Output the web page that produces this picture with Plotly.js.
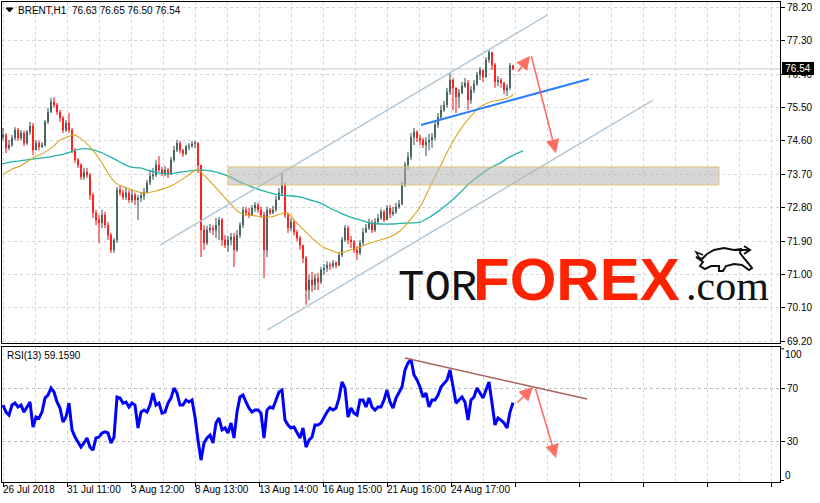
<!DOCTYPE html>
<html><head><meta charset="utf-8">
<script src="https://cdn.plot.ly/plotly-3.0.1.min.js"></script>
<style>html,body{margin:0;padding:0;background:#fff}#chart{width:820px;height:503px}</style>
</head><body><div id="chart"></div>
<script>
// ---------- DATA (BRENT H1) ----------
const firstOpen = 74.70;
const close = [
74.76,74.41,74.49,74.68,74.89,74.68,74.81,74.54,74.84,75.00,
74.35,74.54,74.44,74.49,75.11,75.38,75.65,75.57,75.38,75.22,
74.89,75.08,74.89,74.35,74.09,73.95,73.63,73.76,73.68,73.14,
72.66,72.47,72.39,72.60,72.33,72.06,71.66,71.93,73.28,73.20,
73.09,73.20,73.01,73.14,73.01,73.06,73.12,73.22,73.47,73.65,
73.68,73.95,73.82,73.73,73.82,73.71,74.09,74.35,74.54,74.35,
74.25,74.44,74.46,74.52,74.54,73.95,72.20,71.85,72.20,72.25,
72.20,72.33,72.47,71.93,71.79,71.93,72.01,71.66,72.06,72.33,
72.74,72.66,72.60,72.79,72.87,72.74,72.60,71.66,72.74,72.66,
72.74,73.01,73.20,73.41,72.60,72.25,72.41,72.14,71.98,71.79,
71.44,70.58,70.85,70.72,70.90,70.80,71.12,71.17,71.25,71.23,
71.31,71.25,71.52,71.93,72.25,71.93,71.88,71.66,71.58,71.85,
72.14,72.25,72.39,72.20,72.41,72.52,72.69,72.47,72.79,72.63,
72.69,72.82,72.90,73.41,73.95,74.17,74.70,74.84,74.68,74.62,
74.49,74.57,74.62,74.70,75.03,75.24,75.43,75.57,75.92,76.24,
76.03,75.78,75.89,76.08,76.16,75.70,75.97,76.13,76.38,76.51,
76.32,76.78,76.99,76.65,76.19,76.24,76.16,75.97,76.03,76.63,
76.54];
const high = [
74.95,74.81,74.62,74.76,74.97,74.95,74.89,74.87,74.89,75.11,
75.08,74.62,74.60,74.57,75.16,75.49,75.76,75.78,75.62,75.43,
75.27,75.16,75.35,74.95,74.41,74.14,74.00,73.87,73.87,73.73,
73.20,72.74,72.60,72.74,72.69,72.41,72.12,71.98,73.36,73.41,
73.28,73.33,73.28,73.28,73.20,73.14,73.20,73.33,73.55,73.82,
73.87,74.09,74.19,73.90,73.92,73.87,74.17,74.46,74.62,74.60,
74.38,74.49,74.54,74.60,74.60,74.57,73.95,72.33,72.31,72.36,
72.33,72.52,72.55,72.52,72.06,72.04,72.12,72.12,72.20,72.41,
72.82,72.82,72.79,72.87,72.95,72.93,72.82,72.69,72.82,72.79,
72.85,73.12,73.33,73.73,73.47,72.66,72.52,72.47,72.20,72.04,
71.79,71.50,70.99,71.07,71.01,71.04,71.20,71.28,71.36,71.33,
71.39,71.36,71.61,72.01,72.33,72.31,72.04,71.93,71.77,71.93,
72.25,72.36,72.50,72.47,72.52,72.63,72.77,72.74,72.87,72.87,
72.82,72.93,73.01,73.49,74.03,74.30,74.81,74.95,74.89,74.76,
74.68,74.70,74.79,74.81,75.11,75.35,75.57,75.68,76.03,76.43,
76.30,75.97,76.00,76.19,76.30,76.24,76.08,76.24,76.46,76.59,
76.51,76.86,77.05,76.99,76.70,76.35,76.30,76.19,76.13,76.70,
76.65];
const low = [
74.62,74.27,74.35,74.44,74.62,74.60,74.62,74.46,74.49,74.76,
74.22,74.35,74.35,74.41,74.44,75.06,75.35,75.49,75.30,75.11,
74.81,74.84,74.81,74.27,74.00,73.87,73.55,73.55,73.60,73.01,
72.52,72.33,71.85,72.25,72.25,71.93,71.58,71.58,71.85,73.12,
73.01,73.01,72.93,72.93,72.87,72.47,72.95,73.01,73.17,73.41,
73.55,73.63,73.76,73.65,73.65,73.60,73.68,74.03,74.30,74.27,
74.17,74.22,74.35,74.41,74.41,73.73,71.47,71.66,71.79,72.12,
72.06,71.98,71.93,71.77,71.71,71.61,71.79,71.20,71.61,71.98,
72.25,72.58,72.52,72.58,72.69,72.66,72.52,70.90,71.47,72.60,
72.63,72.69,73.01,73.12,72.52,72.12,72.17,72.06,71.90,71.66,
71.31,70.18,70.31,70.53,70.58,70.58,70.74,70.99,71.07,71.12,
71.17,71.17,71.23,71.47,71.88,71.82,71.71,71.58,71.39,71.52,
71.79,72.12,72.20,72.12,72.14,72.39,72.47,72.41,72.47,72.52,
72.58,72.63,72.77,72.87,73.36,73.82,74.09,74.49,74.57,74.49,
74.41,74.19,74.35,74.41,74.62,74.95,75.16,75.38,75.49,75.84,
75.43,75.35,75.49,75.86,76.03,75.43,75.60,75.89,76.08,76.24,
76.19,76.30,76.70,76.51,76.03,76.08,76.03,75.86,75.81,75.97,
76.50];
const rsi = [
57.3,52.0,49.7,57.3,58.8,55.8,57.3,52.0,55.8,59.6,
40.6,48.2,47.4,52.0,62.6,64.9,70.2,67.2,59.6,55.0,
44.4,48.2,58.8,38.4,33.0,29.2,25.4,28.5,32.3,25.4,
23.1,32.3,33.0,36.1,36.9,36.1,28.5,33.0,63.4,62.6,
58.8,59.6,55.8,58.8,57.3,39.9,52.0,53.5,52.0,57.3,
66.4,57.3,58.8,51.2,52.0,58.8,62.6,70.2,66.4,57.3,
57.3,61.1,59.6,61.1,48.2,30.7,15.5,28.5,32.3,34.5,
28.5,43.7,47.4,38.4,39.9,36.1,43.7,32.3,52.0,63.4,
64.9,59.6,55.0,52.0,53.5,53.5,51.2,32.3,53.5,55.8,
55.0,61.1,67.2,68.7,45.9,42.2,39.9,40.6,36.1,32.3,
39.9,25.4,30.7,33.0,42.2,42.2,43.7,48.2,52.0,55.0,
53.5,55.0,62.6,74.8,70.2,48.2,55.0,51.2,49.7,61.1,
61.1,55.8,62.6,55.8,53.5,55.8,55.8,61.1,68.7,59.6,
55.0,62.6,66.4,71.0,83.9,89.2,92.0,80.1,76.3,71.0,
63.4,66.4,55.8,61.1,61.1,64.9,71.0,74.0,76.3,83.9,
71.0,58.8,61.1,63.4,59.6,45.9,61.1,63.4,70.2,66.4,
62.6,68.7,74.8,58.8,42.2,47.4,45.9,43.7,39.9,52.0,
59.16];
// moving averages (bar index, price)
const maFastX = [1,10,18,31,41,51,58,68,72,78,88,98,108,115,125,141,158,171,188,195,203,213,225,238,248,268,285,293,301,311,321,331,338,348,358,368,378,388,398,408,418,428,438,448,458,468,478,488,498,508,511];
const maFastY = [73.68,73.84,73.92,74.14,74.27,74.44,74.62,74.73,74.76,74.68,74.44,74.09,73.65,73.44,73.33,73.20,73.28,73.41,73.71,73.82,73.65,73.36,73.01,72.66,72.60,72.55,72.66,72.44,72.22,71.96,71.74,71.63,71.58,71.66,71.74,71.85,71.93,72.01,72.17,72.47,72.82,73.36,73.90,74.44,74.89,75.24,75.51,75.65,75.70,75.78,75.86];
const maSlowX = [0,8,18,31,48,58,68,78,88,98,108,118,128,138,148,158,168,178,188,198,208,218,228,238,248,258,268,278,288,298,308,318,328,338,348,358,368,378,391,408,418,428,438,448,458,468,478,488,498,508,521];
const maSlowY = [73.98,74.03,74.06,74.11,74.17,74.22,74.30,74.38,74.38,74.30,74.17,74.03,73.90,73.87,73.79,73.73,73.71,73.76,73.79,73.82,73.79,73.73,73.63,73.49,73.38,73.28,73.20,73.14,73.12,73.09,73.01,72.93,72.79,72.66,72.55,72.47,72.39,72.36,72.36,72.39,72.41,72.55,72.74,72.95,73.20,73.47,73.68,73.87,74.00,74.17,74.33];
// analyst drawings
const upperChannelX = [158, 545], upperChannelY = [71.79, 77.99];
const lowerChannelX = [265, 651], lowerChannelY = [69.50, 75.70];
const supportX = [419, 587], supportY = [75.03, 76.27];
const zoneX = [226, 717], zoneY = [73.41, 73.90];
const rsiTrendX = [403, 585], rsiTrendY = [93.0, 61.9];
const arrowUpX = [515, 528], arrowUpY = [76.43, 76.89];
const arrowDownX = [529, 554], arrowDownY = [76.92, 74.27];
const rsiArrowUpX = [514, 531], rsiArrowUpY = [58.1, 71.0];
const rsiArrowDownX = [533, 554], rsiArrowDownY = [71.0, 17.1];
// axis labels
const priceTicks = [69.2,70.1,71.0,71.9,72.8,73.7,74.6,75.5,76.4,77.3,78.2];
const priceTickText = ['69.20','70.10','71.00','71.90','72.80','73.70','74.60','75.50','76.40','77.30','78.20'];
const dateLabels = ['26 Jul 2018','31 Jul 11:00','3 Aug 12:00','8 Aug 13:00','13 Aug 14:00','16 Aug 15:00','21 Aug 16:00','24 Aug 17:00'];
const dateLabelBars = [1.4,65.4,129.4,193.4,257.4,321.4,385.4,449.4];
const lastPrice = 76.54;
const header = 'BRENT,H1  76.63 76.65 76.50 76.54';
const rsiHeader = 'RSI(13) 59.1590';

// ---------- BUILD ----------
const open = [firstOpen].concat(close.slice(0, -1));
const barX = close.map((_, i) => 1 + 3 * i);
const FONT = '"Liberation Sans", Arial, sans-serif';
const FS = 10;
const px = v => (v - 2) / 778;
const py = v => (482 - v) / 480;
const pathOf = (pts, closed) => 'M ' + pts.map(p => px(p[0]) + ',' + py(p[1])).join(' L ') + (closed ? ' Z' : '');

const traces = [
  {type:'candlestick', x:barX, open:open, high:high, low:low, close:close, xaxis:'x', yaxis:'y',
   increasing:{line:{color:'#2f4f4f', width:1}, fillcolor:'#2f4f4f'},
   decreasing:{line:{color:'#ff0000', width:1}, fillcolor:'#ff0000'},
   whiskerwidth:0, hoverinfo:'skip'},
  {type:'scatter', mode:'lines', x:maSlowX, y:maSlowY, line:{color:'#20b2aa', width:1.3, shape:'spline'}, xaxis:'x', yaxis:'y'},
  {type:'scatter', mode:'lines', x:maFastX, y:maFastY, line:{color:'#daa520', width:1.1, shape:'spline'}, xaxis:'x', yaxis:'y'},
  {type:'scatter', mode:'lines', x:upperChannelX, y:upperChannelY, line:{color:'#b0c8d8', width:1.5}, xaxis:'x', yaxis:'y'},
  {type:'scatter', mode:'lines', x:lowerChannelX, y:lowerChannelY, line:{color:'#b0c8d8', width:1.5}, xaxis:'x', yaxis:'y'},
  {type:'scatter', mode:'lines', x:supportX, y:supportY, line:{color:'#2a7fff', width:2}, xaxis:'x', yaxis:'y'},
  {type:'scatter', mode:'lines', x:barX, y:rsi, line:{color:'#0000ff', width:3}, xaxis:'x2', yaxis:'y2'},
  {type:'scatter', mode:'lines', x:rsiTrendX, y:rsiTrendY, line:{color:'#a8645a', width:1.5}, xaxis:'x2', yaxis:'y2'}
];

const arrowStyle = {showarrow:true, text:'', arrowhead:2, arrowsize:1.7, arrowwidth:1.6, arrowcolor:'rgba(255,95,80,0.9)', standoff:0};
const annotations = [
  Object.assign({x:arrowUpX[1], y:arrowUpY[1], ax:arrowUpX[0], ay:arrowUpY[0], xref:'x', yref:'y', axref:'x', ayref:'y'}, arrowStyle),
  Object.assign({x:arrowDownX[1], y:arrowDownY[1], ax:arrowDownX[0], ay:arrowDownY[0], xref:'x', yref:'y', axref:'x', ayref:'y'}, arrowStyle),
  Object.assign({x:rsiArrowUpX[1], y:rsiArrowUpY[1], ax:rsiArrowUpX[0], ay:rsiArrowUpY[0], xref:'x2', yref:'y2', axref:'x2', ayref:'y2'}, arrowStyle),
  Object.assign({x:rsiArrowDownX[1], y:rsiArrowDownY[1], ax:rsiArrowDownX[0], ay:rsiArrowDownY[0], xref:'x2', yref:'y2', axref:'x2', ayref:'y2'}, arrowStyle),
  {text:header, xref:'paper', yref:'paper', x:px(16), y:py(10), xanchor:'left', yanchor:'middle', showarrow:false, font:{family:FONT, size:FS, color:'#000'}},
  {text:rsiHeader, xref:'paper', yref:'paper', x:px(5), y:py(355), xanchor:'left', yanchor:'middle', showarrow:false, font:{family:FONT, size:FS, color:'#000'}},
  {text:lastPrice.toFixed(2), xref:'paper', yref:'y', x:1, y:lastPrice, xanchor:'left', yanchor:'middle', xshift:2, showarrow:false,
   bgcolor:'#000', borderpad:1, borderwidth:0, width:30, font:{family:FONT, size:10, color:'#fff'}},
  {text:'100', xref:'paper', yref:'y2', x:1, y:96.0, xanchor:'left', yanchor:'middle', xshift:3, showarrow:false, font:{family:FONT, size:FS, color:'#000'}},
  {text:'0', xref:'paper', yref:'y2', x:1, y:3.6, xanchor:'left', yanchor:'middle', xshift:3, showarrow:false, font:{family:FONT, size:FS, color:'#000'}},
  {text:'TOR', xref:'paper', yref:'paper', x:px(396), y:py(288), xanchor:'left', yanchor:'middle', showarrow:false, font:{family:'"Liberation Mono", monospace', size:44, color:'#111'}},
  {text:'FOREX', xref:'paper', yref:'paper', x:px(471), y:py(279), xanchor:'left', yanchor:'middle', showarrow:false, font:{family:FONT, size:60, weight:700, color:'#ff2200'}},
  {text:'.com', xref:'paper', yref:'paper', x:px(684), y:py(286), xanchor:'left', yanchor:'middle', showarrow:false, font:{family:'"Liberation Serif", serif', size:42, color:'#111'}}
];
dateLabels.forEach((t, i) => annotations.push({text:t, xref:'x2', yref:'paper', x:dateLabelBars[i], y:0, xanchor:'left', yanchor:'top', xshift:-2, showarrow:false, font:{family:FONT, size:FS, color:'#000'}}));

const bull = [[696,257],[702,259],[707,254],[714,250],[724,248],[734,250],[741,249],[740,253],[743,257],[748,263],[752,268],[749,270],[742,265],[734,264],[726,266],[723,271],[719,271],[719,266],[711,266],[705,269],[700,266],[703,262]];
const shapes = [
  {type:'line', xref:'paper', yref:'y', x0:0, x1:1, y0:lastPrice, y1:lastPrice, line:{color:'#c8c8c8', width:1}, layer:'below'},
  {type:'rect', xref:'x', yref:'y', x0:zoneX[0], x1:zoneX[1], y0:zoneY[0], y1:zoneY[1], fillcolor:'rgba(180,180,180,0.55)', line:{color:'rgba(232,195,110,0.9)', width:1}, layer:'above'},
  {type:'line', xref:'paper', yref:'y2', x0:1, x1:1 + 4/778, y0:100, y1:100, line:{color:'#000', width:1}},
  {type:'line', xref:'paper', yref:'y2', x0:1, x1:1 + 4/778, y0:0, y1:0, line:{color:'#000', width:1}},
  {type:'path', xref:'paper', yref:'paper', path:pathOf([[6,8],[13,8],[9.5,12]], true), fillcolor:'#000', line:{color:'#000', width:1}},
  {type:'path', xref:'paper', yref:'paper', path:pathOf(bull, true), fillcolor:'#fff', line:{color:'#111', width:2}},
  {type:'path', xref:'paper', yref:'paper', path:pathOf([[734,250],[749,250]], false), line:{color:'#111', width:2}},
  {type:'path', xref:'paper', yref:'paper', path:pathOf([[744,246],[750,250],[744,254]], false), line:{color:'#111', width:2}},
  {type:'path', xref:'paper', yref:'paper', path:pathOf([[700,259],[696,252],[703,255]], false), line:{color:'#111', width:1.5}}
];

const gridColor = '#d6d6d6';
const layout = {
  width:820, height:503, margin:{l:2, r:40, t:2, b:21},
  paper_bgcolor:'#fff', plot_bgcolor:'#fff', showlegend:false, boxgap:0.75,
  font:{family:FONT, size:FS, color:'#000'},
  xaxis:{domain:[0,1], range:[0,778], anchor:'y', showline:true, mirror:true, linecolor:'#000', linewidth:1,
         ticks:'', showticklabels:false, tick0:1.4, dtick:32, showgrid:true, gridcolor:gridColor, griddash:'3px,3px',
         zeroline:false, rangeslider:{visible:false}, fixedrange:true},
  xaxis2:{domain:[0,1], range:[0,778], anchor:'y2', showline:true, mirror:true, linecolor:'#000', linewidth:1,
          ticks:'outside', ticklen:4, tickcolor:'#000', showticklabels:false, tick0:1.4, dtick:64,
          showgrid:true, gridcolor:gridColor, griddash:'3px,3px',
          minor:{tick0:1.4, dtick:32, showgrid:true, gridcolor:gridColor, griddash:'3px,3px', ticks:''},
          zeroline:false, fixedrange:true},
  yaxis:{domain:[0.2896,1], range:[69.153,78.343], anchor:'x', side:'right', showline:true, mirror:true, linecolor:'#000', linewidth:1,
         ticks:'outside', ticklen:4, tickcolor:'#000', tickvals:priceTicks, ticktext:priceTickText,
         tickfont:{family:FONT, size:FS, color:'#000'}, showgrid:true, gridcolor:gridColor, griddash:'3px,3px', zeroline:false, fixedrange:true},
  yaxis2:{domain:[0,0.2819], range:[-1.1,101.6], anchor:'x2', side:'right', showline:true, mirror:true, linecolor:'#000', linewidth:1,
          ticks:'outside', ticklen:4, tickcolor:'#000', tickvals:[30,70], ticktext:['30','70'],
          tickfont:{family:FONT, size:FS, color:'#000'}, showgrid:true, gridcolor:'#bdbdbd', griddash:'3px,3px', zeroline:false, fixedrange:true},
  annotations:annotations, shapes:shapes
};
Plotly.newPlot('chart', traces, layout, {staticPlot:true, displayModeBar:false});
</script></body></html>
